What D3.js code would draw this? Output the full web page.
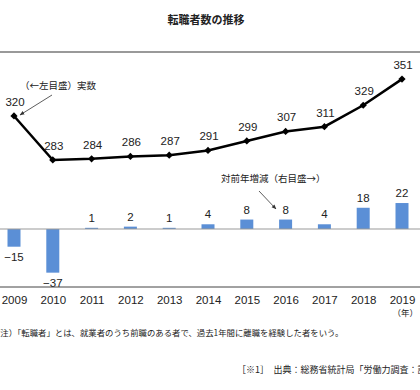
<!DOCTYPE html>
<html>
<head>
<meta charset="utf-8">
<script src="https://cdn.jsdelivr.net/npm/d3@7"></script>
<style>
    body { margin: 0; background: #fff; }
    svg { display: block; }
    text { font-family: "Liberation Sans Narrow", "Liberation Sans", "Noto Sans CJK JP", sans-serif; fill: #222; }
    .jp { font-family: "Noto Sans CJK JP", sans-serif; }
</style>
</head>
<body>
<svg id="chart" width="420" height="390"></svg>
<script>
// Data
const years = ['2009', '2010', '2011', '2012', '2013', '2014', '2015', '2016', '2017', '2018', '2019'];
const changers = [320, 283, 284, 286, 287, 291, 299, 307, 311, 329, 351];
const yearChange = [-15, -37, 1, 2, 1, 4, 8, 8, 4, 18, 22];

const svg = d3.select('#chart');

// Scales
const x = d3.scalePoint().domain(years).range([14, 402]);
const yLeft = d3.scaleLinear().domain([250, 350]).range([199.2, 80.3]);
const yRight = d3.scaleLinear().domain([-40, 30]).range([276.2, 193.6]);

// Title
svg.append('text')
    .attr('class', 'jp')
    .attr('x', 206).attr('y', 24)
    .attr('text-anchor', 'middle')
    .style('font-size', '11px')
    .style('font-weight', 'bold')
    .text('転職者数の推移');

// Frame lines
svg.append('line')
    .attr('x1', 0).attr('x2', 420).attr('y1', 52).attr('y2', 52)
    .attr('stroke', '#777').attr('stroke-width', 1.5);

// Bars
const barW = 13;
svg.append('g').selectAll('rect')
    .data(yearChange)
    .join('rect')
    .attr('x', (d, i) => x(years[i]) - barW / 2)
    .attr('y', d => yRight(Math.max(0, d)))
    .attr('width', barW)
    .attr('height', d => Math.abs(yRight(d) - yRight(0)))
    .attr('fill', '#5b8fd6');

// Zero line
svg.append('line')
    .attr('x1', 0).attr('x2', 420).attr('y1', yRight(0)).attr('y2', yRight(0))
    .attr('stroke', '#999').attr('stroke-width', 1);

// Bar labels
svg.append('g').selectAll('text')
    .data(yearChange)
    .join('text')
    .attr('x', (d, i) => x(years[i]))
    .attr('y', d => d >= 0 ? yRight(d) - 6 : yRight(d) + 14)
    .attr('text-anchor', 'middle')
    .style('font-size', '11.5px')
    .text(d => d < 0 ? '−' + Math.abs(d) : d);

// Line
const line = d3.line()
    .x((d, i) => x(years[i]))
    .y(d => yLeft(d));

svg.append('path')
    .datum(changers)
    .attr('d', line)
    .attr('fill', 'none')
    .attr('stroke', '#000')
    .attr('stroke-width', 2.5);

svg.append('g').selectAll('path')
    .data(changers)
    .join('path')
    .attr('d', d3.symbol(d3.symbolSquare, 26))
    .attr('transform', (d, i) => `translate(${x(years[i])},${yLeft(d)}) rotate(45)`)
    .attr('fill', '#000');

svg.append('g').selectAll('text')
    .data(changers)
    .join('text')
    .attr('x', (d, i) => x(years[i]) + 1)
    .attr('y', d => yLeft(d) - 10)
    .attr('text-anchor', 'middle')
    .style('font-size', '11.5px')
    .text(d => d);

// Bottom axis
const xAxis = d3.axisBottom(x).tickSize(0).tickPadding(9);
svg.append('g')
    .attr('transform', 'translate(0,287)')
    .call(xAxis)
    .call(g => g.select('.domain').remove())
    .call(g => g.selectAll('text')
        .style('font-size', '11.5px')
        .style('font-family', '"Liberation Sans Narrow", "Liberation Sans", sans-serif')
        .attr('fill', '#222'));

svg.append('line')
    .attr('x1', 0).attr('x2', 420).attr('y1', 287).attr('y2', 287)
    .attr('stroke', '#444').attr('stroke-width', 1);

svg.append('text')
    .attr('class', 'jp')
    .attr('x', 418).attr('y', 316)
    .attr('text-anchor', 'end')
    .style('font-size', '8.5px')
    .text('（年）');

// Annotations
svg.append('defs').append('marker')
    .attr('id', 'arrow')
    .attr('viewBox', '0 0 10 10')
    .attr('refX', 9).attr('refY', 5)
    .attr('markerWidth', 6).attr('markerHeight', 6)
    .attr('orient', 'auto')
    .append('path')
    .attr('d', 'M0,1 L10,5 L0,9 Z')
    .attr('fill', '#333');

svg.append('text')
    .attr('class', 'jp')
    .attr('x', 20).attr('y', 89)
    .style('font-size', '9.5px')
    .text('（←左目盛）実数');

svg.append('line')
    .attr('x1', 52).attr('y1', 95).attr('x2', 20).attr('y2', 115)
    .attr('stroke', '#333').attr('stroke-width', 0.8)
    .attr('marker-end', 'url(#arrow)');

svg.append('text')
    .attr('class', 'jp')
    .attr('x', 221).attr('y', 182)
    .style('font-size', '9.5px')
    .text('対前年増減（右目盛→）');

svg.append('line')
    .attr('x1', 259).attr('y1', 191).attr('x2', 276).attr('y2', 209)
    .attr('stroke', '#333').attr('stroke-width', 0.8)
    .attr('marker-end', 'url(#arrow)');

// Notes
svg.append('text')
    .attr('class', 'jp')
    .attr('x', -8).attr('y', 336)
    .style('font-size', '8.4px')
    .text('（注）「転職者」とは、就業者のうち前職のある者で、過去1年間に離職を経験した者をいう。');

svg.append('text')
    .attr('class', 'jp')
    .attr('x', 237).attr('y', 373)
    .style('font-size', '9px')
    .text('［※1］　出典：総務省統計局「労働力調査：詳細集計」');
</script>
</body>
</html>
